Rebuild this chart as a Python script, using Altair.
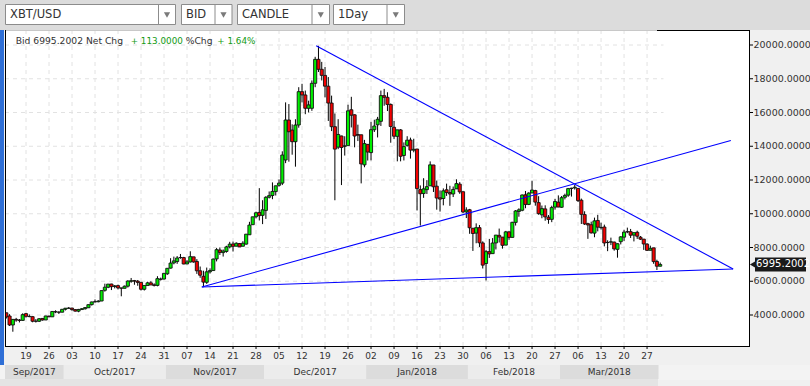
import altair as alt
import pandas as pd
import numpy as np

# ---------------- data ----------------
dates = pd.date_range("2017-09-13", "2018-03-31", freq="D")

opens = [4131, 3940, 3410, 3740, 3700, 3680, 4081, 3917, 3902, 3629, 3629, 3796, 3704, 3929, 3892, 4197, 4171, 4166,
         4342, 4395, 4408, 4319, 4229, 4324, 4370, 4429, 4615, 4789, 4787, 4829, 5464, 5643, 5835, 5687, 5741, 5603, 5583, 5709, 5996, 6036, 6006, 5935, 5525, 5747, 5905, 5787, 5755, 6114, 6132,
         6441, 6777, 7088, 7165, 7404, 7403, 7024, 7141, 7446, 7173, 6619, 6295, 5938, 6561, 6634, 7323, 7853, 7698, 7766, 8039, 8205, 8077, 8233, 8075, 8201, 8755, 9352, 9823, 10077, 9906,
         10198, 10978, 11082, 11315, 11685, 11815, 13185, 15555, 14960, 14270, 15260, 17235, 17040, 16250, 16250, 17730, 19150, 18560, 18200, 17560, 16560, 15160, 13948, 14608, 13995, 14037, 16163, 15864, 14695, 14681, 12897,
         14112, 13625, 14978, 15270, 15477, 17000, 16900, 16476, 15123, 14588, 14968, 13453, 14053, 14370, 13767, 13836, 11431, 11198, 11429, 11656, 12889, 11633, 10944, 10903, 11421, 11256, 11174, 11475, 11755, 11306, 10109,
         10237, 9142, 8852, 9175, 8270, 7051, 7755, 7637, 8271, 8720, 8616, 8141, 8926, 8599, 9488, 10136, 10207, 11123, 10553, 11231, 11373, 10660, 9937, 10287, 9796, 9669, 10393, 10687,
         10385, 10977, 11101, 11498, 11532, 11500, 10803, 9951, 9414, 9350, 8853, 9602, 9173, 9214, 8290, 8322, 8321, 7890, 8344, 8613, 8937, 8939, 8736, 8901, 8613, 8498, 8201, 7836, 7979, 7171, 6892]
highs = [4131, 4050, 3760, 3830, 3760, 4100, 4123, 4033, 3917, 3758, 3819, 3796, 3950, 3969, 4210, 4279, 4214, 4358,
         4403, 4470, 4432, 4352, 4362, 4413, 4464, 4624, 4790, 4923, 4874, 5446, 5857, 5837, 5852, 5776, 5800, 5603, 5744, 6060, 6194, 6076, 6075, 5935, 5757, 5971, 6003, 5876, 6300, 6214, 6470,
         6767, 7367, 7461, 7492, 7617, 7445, 7253, 7776, 7446, 7312, 6873, 6625, 6811, 6764, 7342, 7967, 8004, 7884, 8101, 8336, 8348, 8302, 8268, 8374, 8800, 9522, 9818, 10125, 11517, 10801,
         11046, 11320, 11858, 11657, 12033, 13700, 16600, 16500, 15300, 15600, 17500, 17700, 17300, 16700, 17900, 19300, 19950, 19000, 18700, 18100, 17000, 15943, 15603, 14626, 14593, 16461, 16930, 15888, 15279, 14681, 14377,
         14112, 15444, 15572, 15739, 17300, 17400, 17200, 16537, 15497, 14973, 15018, 14229, 14595, 14511, 14445, 13843, 11678, 12107, 11992, 13103, 12895, 11966, 11377, 11502, 11785, 11656, 11614, 12040, 11876, 11307, 10382,
         10288, 9142, 9430, 9334, 8364, 7850, 8509, 8558, 8736, 9122, 8616, 8985, 8958, 9518, 10219, 10324, 11139, 11349, 11273, 11958, 11418, 11040, 10487, 10500, 9923, 10475, 10878, 11089,
         11052, 11189, 11528, 11540, 11710, 11500, 10899, 10147, 9466, 9531, 9771, 9937, 9470, 9355, 8428, 8585, 8346, 8245, 8675, 9051, 9177, 9100, 8879, 8996, 8682, 8498, 8255, 8109, 7979, 7276, 7111]
lows = [3789, 3350, 3010, 3600, 3560, 3660, 3842, 3867, 3569, 3553, 3584, 3666, 3704, 3869, 3892, 4109, 4062, 4160,
        4269, 4378, 4258, 4210, 4164, 4320, 4323, 4429, 4561, 4742, 4751, 4822, 5383, 5591, 5478, 5576, 5520, 5109, 5580, 5627, 5910, 5792, 5732, 5451, 5451, 5747, 5846, 5689, 5700, 6040, 6103,
        6377, 6758, 7003, 7031, 7333, 7007, 7024, 7114, 7101, 6436, 6204, 5650, 5844, 6461, 6634, 7176, 7561, 7463, 7694, 7949, 7762, 8075, 8038, 8075, 8172, 8757, 9352, 9723, 9601, 9386,
        9694, 10906, 10862, 11081, 11604, 11700, 13000, 13085, 13500, 12790, 15100, 16600, 15900, 16000, 16100, 17500, 18400, 17900, 16900, 15500, 14900, 10800, 13828, 11700, 13448, 14037, 15114, 13937, 14307, 11800, 12755,
        13154, 13163, 14844, 14522, 15202, 16400, 16087, 14208, 14424, 13105, 13105, 13158, 13980, 13268, 13641, 10194, 9300, 10942, 11172, 11656, 11289, 10240, 10129, 10500, 11057, 10470, 10989, 11475, 11179, 10036, 9745,
        8812, 7796, 8251, 8031, 6756, 6048, 7384, 7637, 7884, 8295, 7932, 8141, 8455, 8599, 9301, 9824, 10149, 10326, 10513, 11231, 10479, 9940, 9734, 9585, 9407, 9501, 10246, 10393,
        10352, 10850, 11002, 11018, 11430, 10695, 9394, 9335, 8513, 8828, 8607, 8956, 9059, 8068, 7783, 8144, 7812, 7397, 8182, 8389, 8846, 8564, 8360, 8509, 8449, 7860, 7791, 7836, 7035, 6666, 6881]
closes = [3882, 3410, 3740, 3700, 3680, 4020, 3924, 3905, 3631, 3631, 3776, 3703, 3942, 3892, 4209, 4185, 4164, 4338,
          4403, 4409, 4318, 4229, 4328, 4371, 4439, 4611, 4773, 4782, 4826, 5446, 5647, 5831, 5679, 5725, 5605, 5590, 5708, 6011, 6031, 6008, 5930, 5526, 5750, 5904, 5780, 5753, 6153, 6130, 6468,
          6767, 7078, 7207, 7379, 7407, 7023, 7144, 7459, 7143, 6618, 6357, 5950, 6559, 6635, 7315, 7871, 7708, 7790, 8036, 8200, 8071, 8253, 8038, 8253, 8790, 9330, 9818, 10058, 9888, 10233,
          10975, 11074, 11323, 11657, 11815, 13480, 15555, 14860, 14270, 15260, 17235, 17040, 16250, 16450, 17730, 19150, 18560, 18200, 17560, 16560, 15160, 13831, 14699, 13926, 14026, 16099, 15838, 14606, 14656, 12952, 14156,
          13657, 14982, 15201, 15599, 17000, 16900, 16477, 15170, 14595, 14973, 13405, 13980, 14360, 13772, 13819, 11490, 11188, 11474, 11607, 12899, 11600, 10931, 10868, 11359, 11259, 11171, 11440, 11786, 11296, 10106, 10221,
          9170, 8830, 9174, 8277, 6955, 7754, 7621, 8265, 8736, 8621, 8129, 8926, 8598, 9494, 10166, 10233, 11112, 10552, 11225, 11403, 10690, 10005, 10301, 9813, 9664, 10366, 10725, 10397,
          10951, 11087, 11489, 11513, 11573, 10780, 9965, 9396, 9337, 8866, 9578, 9205, 9194, 8269, 8300, 8338, 7916, 8223, 8630, 8913, 8929, 8728, 8879, 8668, 8495, 8209, 7833, 7954, 7165, 6891, 6995.2002]

# trend lines (date offset in days from 2017-09-19, price)
trend_names = ["down", "down", "base", "base", "rise", "rise"]
trend_days = [88.3, 215.2, 53.5, 215.2, 53.5, 214.5]
trend_prices = [19950, 6730, 5660, 6730, 5660, 14340]

y_ticks = [4000, 6000, 8000, 10000, 12000, 14000, 16000, 18000, 20000]
week_labels = ["19", "26", "03", "10", "17", "24", "31", "07", "14", "21", "28", "05", "12", "19",
               "26", "02", "09", "16", "23", "30", "06", "13", "20", "27", "06", "13", "20", "27"]
month_labels = ["Sep/2017", "Oct/2017", "Nov/2017", "Dec/2017", "Jan/2018", "Feb/2018", "Mar/2018"]
last_price = 6995.2002

# ---------------- geometry ----------------
W, H = 744, 316
PXD = 3.286
ref = pd.Timestamp("2017-09-19")
XMIN, XMAX = -21 / PXD, (W - 21) / PXD
xs = alt.Scale(domain=[XMIN, XMAX], nice=False, zero=False)
ys = alt.Scale(domain=[2163, 20889], nice=False, zero=False)
FONT = "DejaVu Sans"
TXT = "#333333"

df = pd.DataFrame({"date": dates, "open": opens, "high": highs, "low": lows, "close": closes})
df["d"] = (df["date"] - ref).dt.days
df["x1"] = df["d"] - 0.47
df["x2"] = df["d"] + 0.47
df["blo"] = df[["open", "close"]].min(axis=1)
df["bhi"] = df[["open", "close"]].max(axis=1)
df["dir"] = np.where(df["close"] >= df["open"], "up", "down")
last_d = int(df["d"].max())

one = pd.DataFrame({"a": [0]})


def rect(x1, y1, x2, y2, fill, stroke=None, sw=1):
    kw = dict(fill=fill)
    if stroke:
        kw.update(stroke=stroke, strokeWidth=sw)
    return alt.Chart(one).mark_rect(**kw).encode(
        x=alt.value(x1), x2=alt.value(x2), y=alt.value(y1), y2=alt.value(y2))


def hline(x1, x2, y, color, sw=1, dash=None):
    kw = dict(color=color, strokeWidth=sw)
    if dash:
        kw["strokeDash"] = dash
    return alt.Chart(one).mark_rule(**kw).encode(
        x=alt.value(x1), x2=alt.value(x2), y=alt.value(y))


def vline(x, y1, y2, color, sw=1):
    return alt.Chart(one).mark_rule(color=color, strokeWidth=sw).encode(
        x=alt.value(x), y=alt.value(y1), y2=alt.value(y2))


def text(x, y, s, size=9, color=TXT, align="left", weight="normal"):
    return alt.Chart(one).mark_text(font=FONT, fontSize=size, color=color, align=align,
                                    baseline="middle", fontWeight=weight).encode(
        x=alt.value(x), y=alt.value(y), text=alt.value(s))


layers = []
# backgrounds (plot coords: abs - (5, 30))
layers.append(rect(-5, -30, 805, 0, "#dcdcdc"))               # top toolbar
layers.append(rect(744, 0, 805, 356, "#f0f0f0"))              # right axis panel
layers.append(rect(-5, 316, 805, 356, "#f0f0f0"))             # bottom
layers.append(rect(-5, 0, -1, 356, "#2f6fd6"))                # left blue strip

# dropdowns
for (x1, x2, dv, label) in [(0, 170, 153, "XBT/USD"), (176, 226.5, 209.5, "BID"),
                            (232, 324, 306.5, "CANDLE"), (328, 399, 381.5, "1Day")]:
    layers.append(rect(x1 + 0.5, -25.5, x2 + 0.5, -5.5, "white", "#8c8c8c"))
    layers.append(vline(dv + 0.5, -25, -5, "#8c8c8c"))
    layers.append(alt.Chart(one).mark_point(shape="triangle-down", filled=True, color="#7a7a7a",
                                            size=38, opacity=1).encode(
        x=alt.value((dv + x2) / 2 + 0.5), y=alt.value(-15)))
    layers.append(text(x1 + 5, -15, label, size=11.5, color="#333333"))

# grid
hg = pd.DataFrame({"v": y_ticks, "a": XMIN, "b": last_d + 1})
layers.append(alt.Chart(hg).mark_rule(color="#e2e2e2", strokeDash=[4, 4], strokeWidth=1).encode(
    y=alt.Y("v:Q", scale=ys, axis=None), x=alt.X("a:Q", scale=xs, axis=None), x2="b:Q"))
wk = pd.DataFrame({"d": list(range(0, 7 * len(week_labels), 7)), "lab": week_labels})
layers.append(alt.Chart(wk).mark_rule(color="#e2e2e2", strokeDash=[4, 4], strokeWidth=1).encode(
    x=alt.X("d:Q", scale=xs, axis=None), y=alt.value(0), y2=alt.value(316)))

# title line
layers.append(text(10.7, 11, "Bid 6995.2002 Net Chg", size=9.2))
layers.append(text(125.7, 11, "+ 113.0000", size=8.8, color="#139a13"))
layers.append(text(180.7, 11, "%Chg", size=9.2))
layers.append(text(212.3, 11, "+ 1.64%", size=8.8, color="#139a13"))

# candles
layers.append(alt.Chart(df).mark_rule(color="black", strokeWidth=1, clip=True).encode(
    x=alt.X("d:Q", scale=xs, axis=None), y=alt.Y("low:Q", scale=ys, axis=None), y2="high:Q"))
layers.append(alt.Chart(df).mark_rect(stroke="#111111", strokeWidth=0.9, clip=True).encode(
    x=alt.X("x1:Q", scale=xs, axis=None), x2="x2:Q",
    y=alt.Y("blo:Q", scale=ys, axis=None), y2="bhi:Q",
    fill=alt.Fill("dir:N", scale=alt.Scale(domain=["up", "down"], range=["#00f000", "#f40000"]),
                  legend=None)))

# trend lines
tl = pd.DataFrame({"name": trend_names, "d": trend_days, "p": trend_prices})
layers.append(alt.Chart(tl).mark_line(color="#0000ff", strokeWidth=1.1).encode(
    x=alt.X("d:Q", scale=xs, axis=None), y=alt.Y("p:Q", scale=ys, axis=None), detail="name:N"))

# borders
layers.append(hline(0, 652, 0.5, "#c8c8c8"))
layers.append(hline(652, 744, 0.5, "#000000"))
layers.append(vline(0.5, 0, 316, "#000000"))
layers.append(vline(744.5, 0, 317, "#000000"))
layers.append(hline(0, 745, 316.5, "#000000"))

# right axis
yt = pd.DataFrame({"v": y_ticks, "lab": [f"{v:.4f}" for v in y_ticks]})
layers.append(alt.Chart(yt).mark_rule(color="black").encode(
    y=alt.Y("v:Q", scale=ys, axis=None), x=alt.value(744), x2=alt.value(748)))
layers.append(alt.Chart(yt).mark_text(font=FONT, fontSize=9.5, color=TXT, align="left",
                                      baseline="middle").encode(
    y=alt.Y("v:Q", scale=ys, axis=None), x=alt.value(748.5), text="lab:N"))

# last price tag
lp = pd.DataFrame({"v": [last_price], "lab": [f"{last_price:.4f}"]})
layers.append(alt.Chart(lp).mark_rect(color="#1a1a1a", yOffset=-7, y2Offset=7).encode(
    y=alt.Y("v:Q", scale=ys, axis=None), y2="v:Q", x=alt.value(750), x2=alt.value(801)))
layers.append(alt.Chart(lp).mark_point(shape="triangle-left", filled=True, color="#1a1a1a",
                                       size=70, opacity=1).encode(
    y=alt.Y("v:Q", scale=ys, axis=None), x=alt.value(748.5)))
layers.append(alt.Chart(lp).mark_text(font=FONT, fontSize=10, color="white", align="left",
                                      baseline="middle").encode(
    y=alt.Y("v:Q", scale=ys, axis=None), x=alt.value(751), text="lab:N"))

# bottom date ticks and labels
layers.append(alt.Chart(wk).mark_rule(color="black").encode(
    x=alt.X("d:Q", scale=xs, axis=None), y=alt.value(316), y2=alt.value(319)))
layers.append(alt.Chart(wk).mark_text(font=FONT, fontSize=9, color=TXT, baseline="middle").encode(
    x=alt.X("d:Q", scale=xs, axis=None), y=alt.value(326), text="lab:N"))

# month bands
mstarts = df.loc[df["date"].dt.day == 1, "d"].tolist()
mb = pd.DataFrame({
    "lab": month_labels,
    "a": [XMIN] + [m - 0.5 for m in mstarts],
    "b": [m - 0.5 for m in mstarts] + [last_d - 0.5],
})
mb["mid"] = (mb["a"] + mb["b"]) / 2
layers.append(rect(-5, 335, 805, 350, "#f3f3f3"))
for i, shade in [(0, "#dcdcdc"), (1, "#ececec")]:
    layers.append(alt.Chart(mb.iloc[i::2]).mark_rect(fill=shade).encode(
        x=alt.X("a:Q", scale=xs, axis=None), x2="b:Q", y=alt.value(335), y2=alt.value(349)))
layers.append(alt.Chart(mb).mark_text(font=FONT, fontSize=9, color=TXT, baseline="middle").encode(
    x=alt.X("mid:Q", scale=xs, axis=None), y=alt.value(342), text="lab:N"))
layers.append(rect(-5, 349, 653, 356, "#e4e4e4"))

chart = alt.layer(*layers).properties(
    width=W, height=H,
    padding={"left": 5, "top": 30, "right": 61, "bottom": 40},
    autosize=alt.AutoSizeParams(type="none"),
    background="#f0f0f0",
).configure_view(fill="white", stroke=None)

chart.save("out.html", embed_options={"renderer": "svg", "actions": False})
